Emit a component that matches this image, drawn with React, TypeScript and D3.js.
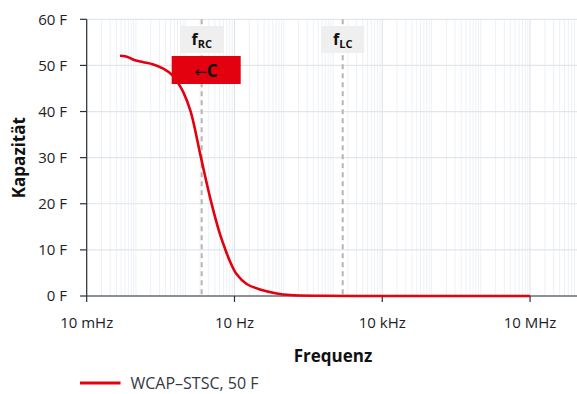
import React from "react";
import * as d3 from "d3";

// Capacitance vs. frequency for a supercapacitor
const frequencyHz = [0.0474, 0.06, 0.0757, 0.0955, 0.141, 0.225, 0.359, 0.531, 0.724, 0.914, 1.291, 2.089, 3.29, 5.08, 6.41, 8.11, 11.1, 17.7, 33, 72, 134, 545, 1e4, 1e5, 1e6, 1e7];
const capacitanceF = [52.1, 52.0, 51.6, 51.1, 50.7, 50.2, 49.3, 48.0, 46.1, 44.2, 40.0, 30.0, 20.8, 13.4, 10.3, 7.5, 4.7, 2.6, 1.4, 0.55, 0.2, 0.04, 0.01, 0, 0, 0];

const yTicks = [0, 10, 20, 30, 40, 50, 60];
const xTicks = [0.01, 10, 1e4, 1e7];
const xTickLabels = ["10 mHz", "10 Hz", "10 kHz", "10 MHz"];

const markerFreqs = [2.16, 1574];
const markerSubs = ["RC", "LC"];

const seriesName = "WCAP–STSC, 50 F";

const W = 577;
const H = 394;
const FONT = "'Open Sans', 'Noto Sans', sans-serif";

export default function App() {
  const x = d3.scaleLog().domain([0.01, 1e8]).range([86.7, 579.3]);
  const y = d3.scaleLinear().domain([0, 60]).range([296, 19.3]);
  const plotRight = W;

  // minor log grid lines
  const minor: number[] = [];
  for (let e = -2; e < 8; e++) {
    for (let m = 1; m <= 9; m++) {
      const v = m * Math.pow(10, e);
      if (x(v) <= plotRight) minor.push(v);
    }
  }

  const line = d3
    .line<number>()
    .x((_, i) => x(frequencyHz[i]))
    .y((d) => y(Math.max(0, d)))
    .curve(d3.curveCatmullRom.alpha(0.5));

  return (
    <svg
      width={W}
      height={H}
      style={{ position: "absolute", left: 0, top: 0, fontFamily: FONT }}
    >
      <rect width={W} height={H} fill="#fff" />
      <defs>
        <clipPath id="plot">
          <rect x={86.7} y={0} width={plotRight - 86.7} height={300} />
        </clipPath>
      </defs>
      <g clipPath="url(#plot)">
        {minor.map((v, i) => {
          const major = xTicks.some((t) => Math.abs(t - v) / t < 1e-9);
          return (
            <line
              key={i}
              x1={x(v)}
              x2={x(v)}
              y1={y(60)}
              y2={y(0)}
              stroke={major ? "#dde2ea" : "#eef1f5"}
              strokeWidth={1}
            />
          );
        })}
        {yTicks.map((t) => (
          <line key={t} x1={86.7} x2={plotRight} y1={y(t)} y2={y(t)} stroke="#e1e5ec" strokeWidth={1.2} />
        ))}
      </g>

      {/* axes */}
      <line x1={86.7} x2={86.7} y1={y(60)} y2={y(0)} stroke="#2a2f38" strokeWidth={1.2} />
      <line x1={86.7} x2={plotRight} y1={y(0)} y2={y(0)} stroke="#2a2f38" strokeWidth={1.2} />
      {yTicks.map((t) => (
        <g key={t}>
          <line x1={80} x2={86.7} y1={y(t)} y2={y(t)} stroke="#2a2f38" strokeWidth={1.2} />
          <text x={67} y={y(t)} dy="0.36em" textAnchor="end" fontSize={15} fill="#1e2228">
            {t} F
          </text>
        </g>
      ))}
      {xTicks.map((t, i) => (
        <g key={t}>
          <line x1={x(t)} x2={x(t)} y1={y(0)} y2={y(0) + 6} stroke="#2a2f38" strokeWidth={1.2} />
          <text x={x(t)} y={328.3} textAnchor="middle" fontSize={15} fill="#1e2228">
            {xTickLabels[i]}
          </text>
        </g>
      ))}

      <text
        transform={`translate(25,${(y(0) + y(60)) / 2}) rotate(-90)`}
        textAnchor="middle"
        fontSize={17}
        fontWeight="bold"
        fill="#111"
      >
        Kapazität
      </text>
      <text x={333} y={362} textAnchor="middle" fontSize={17} fontWeight="bold" fill="#111">
        Frequenz
      </text>

      {/* characteristic frequency markers */}
      {markerFreqs.map((f, i) => (
        <g key={f}>
          <line
            x1={x(f)}
            x2={x(f)}
            y1={y(60)}
            y2={y(0)}
            stroke="#b4b4b4"
            strokeWidth={2}
            strokeDasharray="5,4"
          />
          <rect x={x(f) - 21.5} y={26} width={43} height={27} fill="#efefef" />
          <text x={x(f)} y={45} textAnchor="middle" fontWeight="bold" fill="#111">
            <tspan fontSize={16}>f</tspan>
            <tspan fontSize={11} dy={3}>
              {markerSubs[i]}
            </tspan>
          </text>
        </g>
      ))}

      <path d={line(capacitanceF) ?? ""} fill="none" stroke="#e3000f" strokeWidth={2.6} />

      {/* capacitance direction marker */}
      <rect x={171.7} y={56} width={69} height={28} fill="#e3000f" />
      <text x={206} y={76.5} textAnchor="middle" fill="#111">
        <tspan fontSize={15} fontFamily="'DejaVu Sans', sans-serif">←</tspan>
        <tspan fontSize={17} fontWeight="bold">C</tspan>
      </text>

      {/* legend */}
      <line x1={80} x2={120.5} y1={383} y2={383} stroke="#e3000f" strokeWidth={3} />
      <text x={130.5} y={389} fontSize={16} fill="#333a42">
        {seriesName}
      </text>
    </svg>
  );
}
